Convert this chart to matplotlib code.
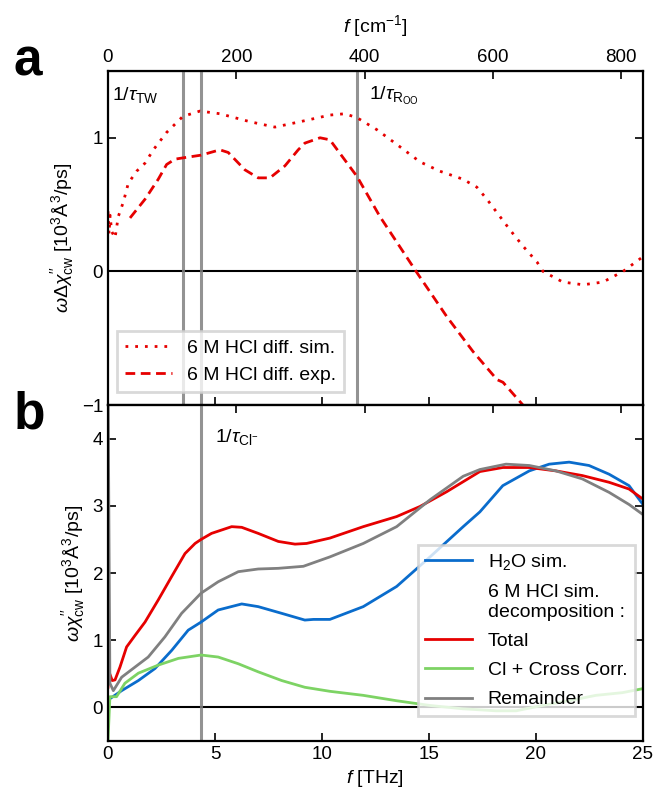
import numpy as np
import matplotlib.pyplot as plt
from matplotlib.lines import Line2D

plt.rcParams['font.family'] = ['Liberation Sans', 'DejaVu Sans']
plt.rcParams['mathtext.fontset'] = 'custom'
plt.rcParams['mathtext.rm'] = 'Liberation Sans'
plt.rcParams['mathtext.it'] = 'Liberation Sans:italic'
plt.rcParams['mathtext.bf'] = 'Liberation Sans:bold'
plt.rcParams['font.size'] = 13.5

THZ_TO_CM = 33.356

# --- panel a: difference spectra ---
f_sim_a = [0.0, 0.05, 0.1, 0.17, 0.33, 0.48, 0.72, 0.95, 1.34, 1.73, 2.12, 2.74, 3.5,
           4.3, 5.23, 6.64, 7.8, 8.97, 10.37, 11.07, 11.64, 12.57, 13.5, 14.58, 15.51,
           16.59, 17.24, 17.71, 18.32, 18.79, 19.39, 20.05, 20.33, 21.26, 22.2, 23.13,
           24.07, 25.0]
sim_a = [0.45, 0.28, 0.42, 0.3, 0.25, 0.41, 0.52, 0.66, 0.75, 0.81, 0.91, 1.04, 1.16,
         1.2, 1.18, 1.12, 1.08, 1.12, 1.17, 1.18, 1.15, 1.06, 0.95, 0.82, 0.75,
         0.69, 0.63, 0.54, 0.41, 0.31, 0.19, 0.07, 0.0, -0.08, -0.1, -0.08,
         0.0, 0.11]

f_exp_a = [1.03, 1.73, 2.35, 2.74, 3.13, 3.52, 4.35, 5.23, 5.62, 6.4, 7.02, 7.57, 8.27,
           8.89, 9.2, 9.91, 10.37, 11.64, 12.71, 14.44, 15.84, 17.06, 18.18, 18.46,
           19.39, 19.8]
exp_a = [0.40, 0.54, 0.69, 0.80, 0.84, 0.85, 0.87, 0.91, 0.89, 0.76, 0.70, 0.70, 0.79,
         0.91, 0.96, 1.0, 0.985, 0.71, 0.41, -0.01, -0.34, -0.6, -0.81, -0.83,
         -1.0, -1.1]

# --- panel b: spectra ---
f_h2o = [0.0, 0.09, 0.64, 1.42, 2.2, 2.98, 3.75, 4.35, 5.15, 6.25, 7.02, 8.12, 9.2,
         9.6, 10.37, 11.93, 13.49, 15.05, 16.6, 17.38, 18.45, 19.69, 20.62, 21.55,
         22.48, 23.42, 24.35, 25.0]
h2o = [0.12, 0.13, 0.25, 0.4, 0.58, 0.85, 1.15, 1.27, 1.45, 1.54, 1.5, 1.4, 1.3,
       1.31, 1.31, 1.5, 1.8, 2.24, 2.69, 2.91, 3.3, 3.52, 3.62, 3.65,
       3.6, 3.47, 3.3, 3.02]

f_total = [0.0, 0.05, 0.2, 0.33, 0.56, 0.87, 1.26, 1.73, 2.35, 2.98, 3.6, 4.07, 4.35,
           4.84, 5.78, 6.25, 7.02, 7.96, 8.74, 9.28, 10.37, 11.93, 13.49, 14.58, 15.83,
           17.38, 18.45, 19.69, 20.93, 22.17, 23.42, 24.35, 25.0]
total = [0.3, 0.53, 0.4, 0.41, 0.6, 0.9, 1.07, 1.27, 1.6, 1.95, 2.29, 2.44, 2.5,
         2.59, 2.69, 2.68, 2.59, 2.47, 2.43, 2.44, 2.52, 2.69, 2.84, 2.99, 3.21,
         3.51, 3.57, 3.57, 3.52, 3.45, 3.35, 3.25, 3.1]

f_cl = [0.0, 0.09, 0.4, 0.79, 1.42, 2.35, 3.29, 4.35, 5.15, 6.09, 7.02, 8.12, 9.2,
        10.37, 11.93, 13.48, 15.03, 16.58, 18.14, 19.07, 20.31, 21.55, 22.8, 24.04,
        25.0]
cl = [-0.5, 0.16, 0.16, 0.36, 0.51, 0.63, 0.73, 0.78, 0.75, 0.65, 0.53, 0.4, 0.3,
      0.24, 0.18, 0.1, 0.03, -0.02, -0.05, -0.05, 0.03, 0.1, 0.18, 0.22,
      0.28]

f_rem = [0.0, 0.09, 0.25, 0.64, 1.26, 1.88, 2.66, 3.44, 4.35, 5.15, 6.09, 7.02, 7.96,
         9.13, 10.37, 11.93, 13.49, 15.05, 16.6, 17.38, 18.6, 19.69, 20.93, 22.17,
         23.42, 24.35, 25.0]
rem = [5.0, 0.36, 0.25, 0.45, 0.6, 0.75, 1.05, 1.4, 1.7, 1.87, 2.02, 2.06, 2.07,
       2.1, 2.24, 2.44, 2.69, 3.09, 3.44, 3.54, 3.62, 3.6, 3.52, 3.4,
       3.2, 3.02, 2.87]

# relaxation markers [THz]
tau_tw = [3.5, 4.35]
tau_roo = 11.64
tau_cl = 4.35

red = '#e60000'
blue = '#0a6ccc'
green = '#7dd364'
gray = '#808080'

fig = plt.figure(figsize=(6.56, 8.02), dpi=100)
ax_a = fig.add_axes([0.1646, 0.495, 0.8155, 0.4165])
ax_b = fig.add_axes([0.1646, 0.076, 0.8155, 0.419])

to_cm = (lambda f: f * THZ_TO_CM, lambda c: c / THZ_TO_CM)

for ax in (ax_a, ax_b):
    ax.set_xlim(0, 25)
    ax.axhline(0, color='black', lw=1.5, zorder=1)
    ax.tick_params(direction='in', length=6, width=1.2, right=True, top=False,
                   labelsize=13.5)
    for s in ax.spines.values():
        s.set_linewidth(1.6)
    ax.set_xticks([0, 5, 10, 15, 20, 25])

# panel a
for x in tau_tw + [tau_roo]:
    ax_a.axvline(x, color=gray, lw=2.2, alpha=0.85, zorder=1)
ax_a.plot(f_sim_a, sim_a, color=red, lw=2, ls=(0, (1, 2.5)), label='6 M HCl diff. sim.')
ax_a.plot(f_exp_a, exp_a, color=red, lw=2, ls=(0, (3.5, 2)), label='6 M HCl diff. exp.')
ax_a.set_ylim(-1, 1.5)
ax_a.set_yticks([-1, 0, 1])
ax_a.tick_params(labelbottom=False)
ax_a.set_ylabel(r"$\omega\Delta\chi^{\prime\prime}_{\rm cw}$ [10$^3$Å$^3$/ps]", fontsize=14)
top_a = ax_a.secondary_xaxis('top', functions=to_cm)
top_a.set_xticks([0, 200, 400, 600, 800])
top_a.tick_params(direction='in', length=6, width=1.2, labelsize=13.5)
top_a.set_xlabel(r"$f$ [cm$^{-1}$]", labelpad=12, fontsize=14)
ax_a.text(0.2, 1.28, r"$1/\tau_{\rm TW}$", fontsize=14)
ax_a.text(12.2, 1.28, r"$1/\tau_{\mathrm{R}_{\mathrm{OO}}}$", fontsize=14)
leg_a = ax_a.legend(loc='lower left', bbox_to_anchor=(0.017, 0.039), borderaxespad=0,
                    handlelength=2.4, fontsize=14, fancybox=False, framealpha=0.8,
                    edgecolor='#d0d0d0')
leg_a.get_frame().set_linewidth(2)

# panel b
ax_b.axvline(tau_cl, color=gray, lw=2.2, alpha=0.85, zorder=1)
ax_b.plot(f_h2o, h2o, color=blue, lw=2, label=r'H$_2$O sim.')
ax_b.plot(f_total, total, color=red, lw=2, label='Total')
ax_b.plot(f_cl, cl, color=green, lw=2, label='Cl + Cross Corr.')
ax_b.plot(f_rem, rem, color=gray, lw=2, label='Remainder')
ax_b.set_ylim(-0.5, 4.5)
ax_b.set_yticks([0, 1, 2, 3, 4])
ax_b.set_xlabel(r"$f$ [THz]", fontsize=14)
ax_b.set_ylabel(r"$\omega\chi^{\prime\prime}_{\rm cw}$ [10$^3$Å$^3$/ps]", fontsize=14)
top_b = ax_b.secondary_xaxis('top', functions=to_cm)
top_b.set_xticks([0, 200, 400, 600, 800])
top_b.tick_params(direction='in', length=6, width=1.2, labeltop=False)
ax_b.text(5.0, 3.95, r"$1/\tau_{\mathrm{Cl}^{-}}$", fontsize=14)

h, l = ax_b.get_legend_handles_labels()
blank = Line2D([], [], color='none')
handles = [h[0], blank, h[1], h[2], h[3]]
labels = [l[0], '6 M HCl sim.\ndecomposition :', l[1], l[2], l[3]]
leg_b = ax_b.legend(handles, labels, loc='lower right', bbox_to_anchor=(0.985, 0.074),
                    borderaxespad=0, handlelength=2.4, fontsize=14, fancybox=False,
                    framealpha=0.8, edgecolor='#d0d0d0', labelspacing=0.6)
leg_b.get_frame().set_linewidth(2)

fig.text(0.02, 0.906, 'a', fontsize=37, fontweight='bold')
fig.text(0.02, 0.466, 'b', fontsize=37, fontweight='bold')

fig.savefig('out.png', dpi=100)
